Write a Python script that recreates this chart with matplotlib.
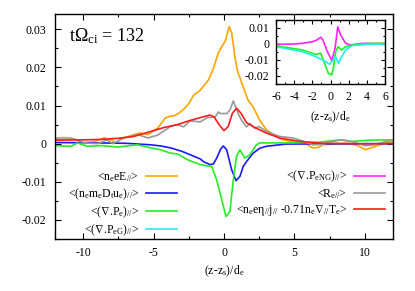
import matplotlib
matplotlib.use("Agg")
import matplotlib.pyplot as plt
from matplotlib.ticker import MultipleLocator

plt.rcParams['font.family'] = ['Liberation Serif', 'DejaVu Serif']
plt.rcParams['mathtext.fontset'] = 'custom'
plt.rcParams['mathtext.rm'] = 'Liberation Serif'
plt.rcParams['mathtext.it'] = 'Liberation Serif:italic'
plt.rcParams['mathtext.default'] = 'regular'

# ---------------- data (main panel) ----------------
orange_x = [-12, -11.4, -10.85, -10.1, -9.6, -9.2, -8.5, -8.0, -7.7, -7.2, -6.6, -6.0, -5.4, -4.7,
            -4.15, -3.8, -3.5, -3.2, -2.87, -2.5, -2.16, -1.69, -1.1, -0.75, -0.4, -0.16, 0.1, 0.37,
            0.55, 0.77, 0.94, 1.36, 1.71, 2.06, 2.54, 3.0, 3.7, 4.2, 5.0, 5.7, 6.3, 6.7, 7.0, 7.9,
            8.8, 9.5, 10.05, 10.75, 11.5, 12]
orange_y = [0.0015, 0.0016, 0.0015, 0.0003, 0.0004, 0.0006, 0.0015, 0.0010, 0.0002, 0.0015, 0.0021,
            0.0028, 0.0024, 0.0041, 0.0068, 0.0072, 0.0074, 0.0080, 0.0090, 0.0105, 0.0127, 0.0140,
            0.0167, 0.0197, 0.0239, 0.0254, 0.0270, 0.0307, 0.0290, 0.0228, 0.0193, 0.0149, 0.0114,
            0.0097, 0.0061, 0.0037, 0.0019, 0.0010, 0.0004, 0.0002, -0.0011, -0.0010, -0.0003,
            0.0000, 0.0001, -0.0005, -0.0016, -0.0007, 0.0002, 0.0003]

blue_x = [-12, -9, -7, -5.2, -4.5, -3.8, -3.0, -2.4, -1.69, -1.46, -0.99, -0.75, -0.52, -0.25,
          -0.05, 0.19, 0.54, 0.85, 1.13, 1.36, 1.6, 2.06, 2.54, 3.0, 4.4, 12]
blue_y = [0.0003, 0.0002, 0.0001, -0.0003, -0.0006, -0.0011, -0.0020, -0.0029, -0.0040, -0.0047,
          -0.0055, -0.0053, -0.0038, -0.0015, -0.0006, -0.0016, -0.0068, -0.0097, -0.0086,
          -0.0060, -0.0047, -0.0025, -0.0012, -0.0007, -0.0001, 0.0]

green_x = [-12, -10.85, -10.4, -9.7, -8.7, -7.55, -6.15, -5.2, -4.5, -3.8, -3.3, -2.6, -1.69,
           -0.87, -0.52, -0.16, 0.14, 0.42, 0.66, 0.89, 1.13, 1.48, 1.83, 2.3, 2.54, 4.9, 6.8,
           8.2, 9.1, 10.3, 11.5, 12]
green_y = [-0.0005, -0.0007, 0.0002, -0.0007, -0.0005, -0.0009, -0.0003, -0.0011, -0.0016,
           -0.0025, -0.0027, -0.0042, -0.0055, -0.0060, -0.0095, -0.0147, -0.0191, -0.0178,
           -0.0095, -0.0033, -0.0016, -0.0038, -0.0029, -0.0003, 0.0002, 0.0002, 0.0004,
           0.0010, 0.0006, 0.0009, 0.0010, 0.0010]

gray_x = [-12, -10.6, -9.9, -9.0, -8.3, -7.9, -7.1, -6.15, -5.4, -4.74, -4.2, -3.8, -3.3, -2.87,
          -2.4, -1.69, -1.2, -0.63, -0.4, -0.28, 0.19, 0.42, 0.66, 1.0, 1.25, 1.6, 1.83, 2.18,
          2.5, 3.0, 3.94, 4.88, 5.5, 6.3, 7.0, 7.6, 8.4, 9.2, 10.0, 10.7, 11.5, 12]
gray_y = [0.0012, 0.0012, 0.0002, 0.0000, 0.0010, 0.0000, 0.0015, 0.0024, 0.0015, 0.0022,
          0.0035, 0.0045, 0.0050, 0.0044, 0.0060, 0.0057, 0.0068, 0.0070, 0.0083, 0.0079,
          0.0079, 0.0088, 0.0112, 0.0079, 0.0061, 0.0044, 0.0053, 0.0040, 0.0045, 0.0032,
          0.0019, 0.0015, 0.0008, -0.0003, -0.0002, 0.0005, 0.0010, 0.0004, -0.0005, -0.0003,
          0.0006, 0.0008]

red_x = [-12, -10, -8.8, -7.5, -6.4, -5.2, -4.3, -3.3, -2.4, -1.7, -1.0, -0.7, -0.35, 0.0, 0.3,
         0.6, 0.89, 1.2, 1.6, 2.06, 2.54, 3.0, 3.94, 5.35, 7, 9, 12]
red_y = [0.0009, 0.0010, 0.0011, 0.0014, 0.0019, 0.0032, 0.0042, 0.0050, 0.0061, 0.0068, 0.0075,
         0.0070, 0.0050, 0.0034, 0.0045, 0.0080, 0.0093, 0.0080, 0.0055, 0.0045, 0.0036, 0.0028,
         0.0015, 0.0006, 0.0001, 0.0, 0.0]

# ---------------- data (inset) ----------------
ins_mag_x = [-6, -4, -3.1, -2.0, -1.5, -1.08, -0.83, -0.35, 0.15, 0.5, 0.8, 1.12, 1.67, 2.2, 3.5, 6]
ins_mag_y = [-0.0002, 0.0, 0.0004, 0.0014, 0.0025, 0.0042, 0.0025, -0.0048, -0.0103, -0.0027,
             0.0108, 0.0056, 0.0004, -0.0006, 0.0004, 0.0002]
ins_green_x = [-6, -3.1, -1.63, -1.08, -0.72, -0.24, 0.13, 0.31, 0.57, 0.83, 1.23, 1.67, 2.77, 4, 6]
ins_green_y = [-0.0011, -0.0037, -0.0065, -0.0058, -0.0110, -0.0183, -0.0194, -0.0152, -0.0048,
               -0.0017, -0.0037, -0.0017, -0.0002, 0.0003, 0.0005]
ins_cyan_x = [-6, -3.1, -1.63, -0.53, -0.1, 0.28, 0.57, 0.88, 1.12, 1.67, 2.4, 4.2, 6]
ins_cyan_y = [-0.0017, -0.0048, -0.0079, -0.0110, -0.0127, -0.0100, -0.0079, -0.0123, -0.0090,
              -0.0037, -0.0010, -0.0002, 0.0]

labels_left = [r"<n$_\mathrm{e}$eE$_{//}$>",
               r"<(n$_\mathrm{e}$m$_\mathrm{e}$D$_\mathrm{t}$u$_\mathrm{e}$)$_{//}$>",
               r"<($\nabla$.P$_\mathrm{e}$)$_{//}$>",
               r"<($\nabla$.P$_\mathrm{eG}$)$_{//}$>"]
labels_right = [r"<($\nabla$.P$_\mathrm{eNG}$)$_{//}$>",
                r"<R$_\mathrm{e//}$>",
                r"<n$_\mathrm{e}$e$\eta_{//}$j$_{//}$ -0.71n$_\mathrm{e}\nabla_{//}$T$_\mathrm{e}$>"]
title_text = r"t$\Omega_\mathrm{ci}$ = 132"
xlabel_text = r"(z-z$_\mathrm{s}$)/d$_\mathrm{e}$"

C_OR, C_BL, C_GR, C_CY, C_MG, C_GY, C_RD = "#ffa500", "#1a1aff", "#22ee22", "#22eeee", "#ff22ff", "#999999", "#ff1a1a"
LW = 1.2
FS = 8.5

fig = plt.figure(figsize=(4.15, 2.91), dpi=100)
ax = fig.add_axes([55/415, 1-239/291, 338/415, 225/291])

l_or, = ax.plot(orange_x, orange_y, color=C_OR, lw=LW)
l_bl, = ax.plot(blue_x, blue_y, color=C_BL, lw=LW)
l_gr, = ax.plot(green_x, green_y, color=C_GR, lw=LW)
l_gy, = ax.plot(gray_x, gray_y, color=C_GY, lw=LW)
l_rd, = ax.plot(red_x, red_y, color=C_RD, lw=LW)

ax.set_xlim(-12, 12)
ax.set_ylim(-0.025, 0.034)
ax.xaxis.set_minor_locator(MultipleLocator(2.5))
ax.yaxis.set_minor_locator(MultipleLocator(0.005))
ax.set_yticks([-0.02, -0.01, 0, 0.01, 0.02, 0.03])
ax.set_yticklabels(["-0.02", "-0.01", "0", "0.01", "0.02", "0.03"])
ax.set_xticks([-10, -5, 0, 5, 10])
ax.set_xticklabels(["-10", "-5", "0", "5", "10"])
ax.tick_params(which='both', direction='in', top=True, right=True, labelsize=FS, width=0.8)
ax.tick_params(which='major', length=4, pad=6)
ax.tick_params(which='minor', length=2)
for s in ax.spines.values():
    s.set_linewidth(1.0)
ax.set_xlabel(xlabel_text, fontsize=FS, labelpad=3)
ax.text(0.04, 0.945, title_text, transform=ax.transAxes, fontsize=13, va='top', ha='left')

# inset
axi = fig.add_axes([276/415, 1-84/291, 109/415, 64/291])
l_mg, = axi.plot(ins_mag_x, ins_mag_y, color=C_MG, lw=LW)
axi.plot(ins_green_x, ins_green_y, color=C_GR, lw=LW)
l_cy, = axi.plot(ins_cyan_x, ins_cyan_y, color=C_CY, lw=LW)
axi.set_xlim(-6, 6)
axi.set_ylim(-0.025, 0.015)
axi.set_xticks([-6, -4, -2, 0, 2, 4, 6])
axi.set_xticklabels(["-6", "-4", "-2", "0", "2", "4", "6"])
axi.xaxis.set_minor_locator(MultipleLocator(1))
axi.set_yticks([-0.02, -0.01, 0, 0.01])
axi.set_yticklabels(["-0.02", "-0.01", "0", "0.01"])
axi.yaxis.set_minor_locator(MultipleLocator(0.005))
axi.tick_params(which='both', direction='in', top=True, right=True, labelsize=FS, width=0.8)
axi.tick_params(which='major', length=3, pad=5)
axi.tick_params(which='minor', length=1.5)
for s in axi.spines.values():
    s.set_linewidth(1.0)
axi.set_xlabel(xlabel_text, fontsize=FS, labelpad=5)

# legends (gnuplot style: text then sample)
leg1 = ax.legend([l_or, l_bl, l_gr, l_cy], labels_left, loc='upper right',
                 bbox_to_anchor=((177-55)/338, (239-170)/225), markerfirst=False, frameon=False,
                 fontsize=FS, handlelength=2.6, handletextpad=0.6, labelspacing=0.22,
                 borderpad=0, borderaxespad=0)
ax.add_artist(leg1)
leg2 = ax.legend([l_mg, l_gy, l_rd], labels_right, loc='upper right',
                 bbox_to_anchor=((385-55)/338, (239-169)/225), markerfirst=False, frameon=False,
                 fontsize=FS, handlelength=2.6, handletextpad=0.6, labelspacing=0.22,
                 borderpad=0, borderaxespad=0)

fig.savefig("out.png", dpi=100)
